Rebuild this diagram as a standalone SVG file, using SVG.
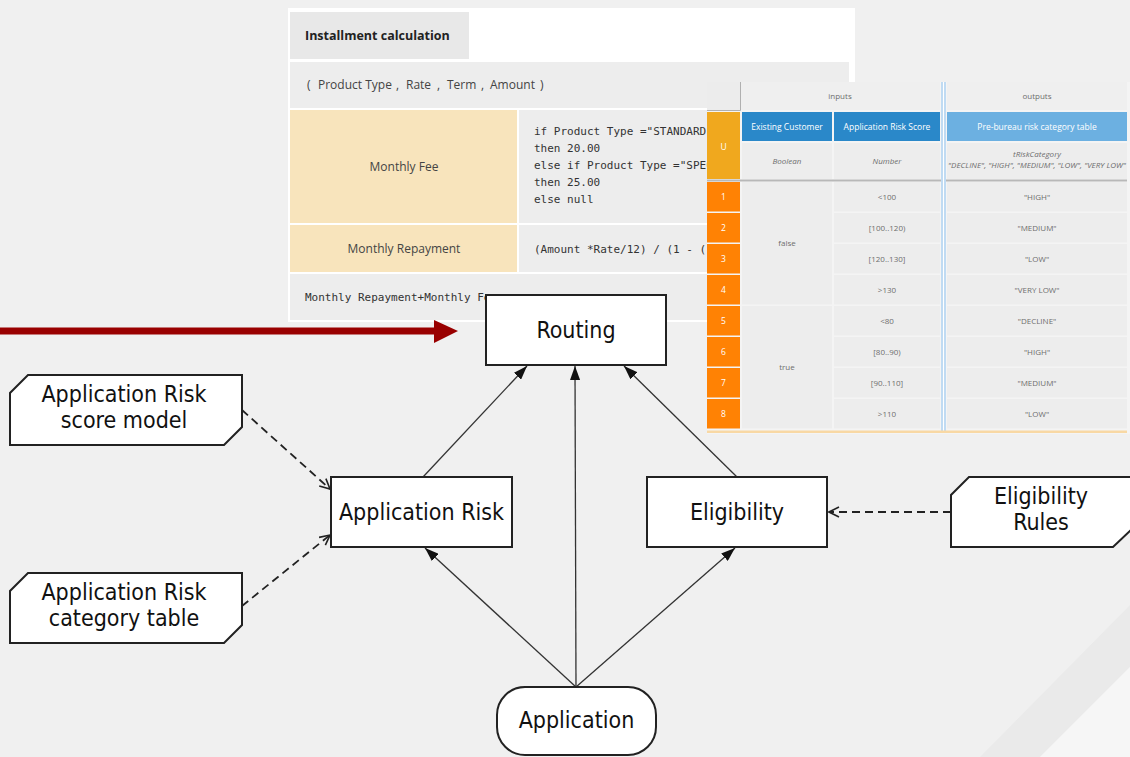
<svg xmlns="http://www.w3.org/2000/svg" width="1130" height="757" viewBox="0 0 1130 757">
  <style>
    .node { fill: #ffffff; stroke: #222222; stroke-width: 2; }
    .lbl { font-family: "DejaVu Sans Condensed", "DejaVu Sans", sans-serif; font-stretch: condensed; font-size: 23px; fill: #111111; text-anchor: middle; }
    .edge { fill: none; stroke: #333333; stroke-width: 1.3; }
    .dash { fill: none; stroke: #222222; stroke-width: 1.8; stroke-dasharray: 8 5; }
    .ui { font-family: "Open Sans", "Liberation Sans", sans-serif; }
    .code { font-family: "DejaVu Sans Mono", "Liberation Mono", monospace; font-size: 11px; fill: #333333; }
    .dt { font-family: "Open Sans", "Liberation Sans", sans-serif; font-size: 8px; fill: #6e6e6e; text-anchor: middle; }
    .dtw { font-family: "Open Sans", "Liberation Sans", sans-serif; font-size: 8.5px; fill: #ffffff; text-anchor: middle; }
    .cell { fill: #ededed; }
    .beige { fill: #f8e4bc; }
    .num { fill: #ff8204; }
  </style>
  <defs>
    <marker id="tri" viewBox="0 0 14 10" refX="14" refY="5" markerWidth="14" markerHeight="10" markerUnits="userSpaceOnUse" orient="auto">
      <path d="M0,0 L14,5 L0,10 z" fill="#111111"/>
    </marker>
    <marker id="open" viewBox="0 0 12 12" refX="11" refY="6" markerWidth="12" markerHeight="12" markerUnits="userSpaceOnUse" orient="auto">
      <path d="M1,1 L11,6 L1,11" fill="none" stroke="#222222" stroke-width="1.6"/>
    </marker>
  </defs>

  <!-- backdrop with diagonal bands -->
  <rect x="0" y="0" width="1130" height="757" fill="#f0f0f0"/>
  <polygon points="1130,605 980,757 1040,757 1130,667" fill="#eaeaea"/>
  <polygon points="1130,667 1040,757 1130,757" fill="#f6f6f6"/>

  <!-- boxed expression: Installment calculation -->
  <g id="installment-table">
    <rect x="288" y="8" width="567" height="314" fill="#ffffff"/>
    <rect x="290" y="12" width="179" height="47" fill="#e8e8e8"/>
    <text class="ui" x="305" y="40" font-size="12.5" font-weight="bold" fill="#222222">Installment calculation</text>
    <rect x="290" y="62" width="559" height="46" class="cell"/>
    <text class="ui" y="89" font-size="12" fill="#444444"><tspan x="307">(</tspan><tspan x="318">Product Type</tspan><tspan x="396">,</tspan><tspan x="406">Rate</tspan><tspan x="437">,</tspan><tspan x="447">Term</tspan><tspan x="481">,</tspan><tspan x="490">Amount</tspan><tspan x="540">)</tspan></text>
    <rect x="290" y="110" width="227" height="113" class="beige"/>
    <rect x="519" y="110" width="330" height="113" class="cell"/>
    <text class="ui" x="404" y="171" font-size="12" fill="#444444" text-anchor="middle">Monthly Fee</text>
    <text class="code" x="534" y="135">if Product Type ="STANDARD</text>
    <text class="code" x="534" y="152">then 20.00</text>
    <text class="code" x="534" y="169">else if Product Type ="SPEC</text>
    <text class="code" x="534" y="186">then 25.00</text>
    <text class="code" x="534" y="203">else null</text>
    <rect x="290" y="225" width="227" height="47" class="beige"/>
    <rect x="519" y="225" width="330" height="47" class="cell"/>
    <text class="ui" x="404" y="253" font-size="12" fill="#444444" text-anchor="middle">Monthly Repayment</text>
    <text class="code" x="534" y="253">(Amount *Rate/12) / (1 - (1</text>
    <rect x="290" y="274" width="559" height="46" class="cell"/>
    <text class="code" x="305" y="301">Monthly Repayment+Monthly Fe</text>
  </g>

  <!-- decision table: Pre-bureau risk category table -->
  <g id="decision-table">
    <rect x="707" y="82" width="423" height="352" fill="#f4f4f4"/>
    <!-- corner cell -->
    <rect x="707" y="82" width="33" height="28" fill="#ececec"/>
    <path d="M740.5,82 V110.5 H707" fill="none" stroke="#b0b0b0" stroke-width="1"/>
    <!-- group headers -->
    <rect x="741" y="82" width="199" height="28" fill="#efefef"/>
    <rect x="947" y="82" width="180" height="28" fill="#efefef"/>
    <text class="dt" x="840" y="99">inputs</text>
    <text class="dt" x="1037" y="99">outputs</text>
    <!-- hit policy -->
    <rect x="707" y="112" width="33" height="67" fill="#f0a81e"/>
    <text class="dtw" x="723.5" y="150" font-size="12">U</text>
    <!-- column names -->
    <rect x="742" y="112" width="90" height="29" fill="#2a88c9"/>
    <rect x="834" y="112" width="106" height="29" fill="#2a88c9"/>
    <rect x="947" y="112" width="180" height="29" fill="#6cb0e1"/>
    <text class="dtw" x="787" y="129.5">Existing Customer</text>
    <text class="dtw" x="887" y="129.5">Application Risk Score</text>
    <text class="dtw" x="1037" y="129.5">Pre-bureau risk category table</text>
    <!-- type row -->
    <rect x="742" y="143" width="90" height="36" class="cell"/>
    <rect x="834" y="143" width="106" height="36" class="cell"/>
    <rect x="947" y="143" width="180" height="36" class="cell"/>
    <text class="dt" x="787" y="164" font-style="italic" font-size="7.5">Boolean</text>
    <text class="dt" x="887" y="164" font-style="italic" font-size="7.5">Number</text>
    <text class="dt" x="1037" y="157" font-style="italic" font-size="7.5">tRiskCategory</text>
    <text class="dt" x="1037" y="168" font-style="italic" font-size="6.3">"DECLINE", "HIGH", "MEDIUM", "LOW", "VERY LOW"</text>
    <rect x="707" y="179.5" width="420" height="2" fill="#b8b8b8"/>
    <!-- rule rows -->
    <g>
      <rect x="707" y="182" width="33" height="29.5" class="num"/>
      <rect x="707" y="213" width="33" height="29.5" class="num"/>
      <rect x="707" y="244" width="33" height="29.5" class="num"/>
      <rect x="707" y="275" width="33" height="29.5" class="num"/>
      <rect x="707" y="306" width="33" height="29.5" class="num"/>
      <rect x="707" y="337" width="33" height="29.5" class="num"/>
      <rect x="707" y="368" width="33" height="29.5" class="num"/>
      <rect x="707" y="399" width="33" height="29.5" class="num"/>
      <text class="dtw" x="723.5" y="199.5" font-size="7">1</text>
      <text class="dtw" x="723.5" y="230.5" font-size="7">2</text>
      <text class="dtw" x="723.5" y="261.5" font-size="7">3</text>
      <text class="dtw" x="723.5" y="292.5" font-size="7">4</text>
      <text class="dtw" x="723.5" y="323.5" font-size="7">5</text>
      <text class="dtw" x="723.5" y="354.5" font-size="7">6</text>
      <text class="dtw" x="723.5" y="385.5" font-size="7">7</text>
      <text class="dtw" x="723.5" y="416.5" font-size="7">8</text>
    </g>
    <rect x="742" y="182" width="90" height="122.5" class="cell"/>
    <rect x="742" y="306" width="90" height="122.5" class="cell"/>
    <text class="dt" x="787" y="246">false</text>
    <text class="dt" x="787" y="370">true</text>
    <g>
      <rect x="834" y="182" width="106" height="29.5" class="cell"/>
      <rect x="834" y="213" width="106" height="29.5" class="cell"/>
      <rect x="834" y="244" width="106" height="29.5" class="cell"/>
      <rect x="834" y="275" width="106" height="29.5" class="cell"/>
      <rect x="834" y="306" width="106" height="29.5" class="cell"/>
      <rect x="834" y="337" width="106" height="29.5" class="cell"/>
      <rect x="834" y="368" width="106" height="29.5" class="cell"/>
      <rect x="834" y="399" width="106" height="29.5" class="cell"/>
      <text class="dt" x="887" y="199.5">&lt;100</text>
      <text class="dt" x="887" y="230.5">[100..120)</text>
      <text class="dt" x="887" y="261.5">[120..130]</text>
      <text class="dt" x="887" y="292.5">&gt;130</text>
      <text class="dt" x="887" y="323.5">&lt;80</text>
      <text class="dt" x="887" y="354.5">[80..90)</text>
      <text class="dt" x="887" y="385.5">[90..110]</text>
      <text class="dt" x="887" y="416.5">&gt;110</text>
    </g>
    <g>
      <rect x="947" y="182" width="180" height="29.5" class="cell"/>
      <rect x="947" y="213" width="180" height="29.5" class="cell"/>
      <rect x="947" y="244" width="180" height="29.5" class="cell"/>
      <rect x="947" y="275" width="180" height="29.5" class="cell"/>
      <rect x="947" y="306" width="180" height="29.5" class="cell"/>
      <rect x="947" y="337" width="180" height="29.5" class="cell"/>
      <rect x="947" y="368" width="180" height="29.5" class="cell"/>
      <rect x="947" y="399" width="180" height="29.5" class="cell"/>
      <text class="dt" x="1037" y="199.5">"HIGH"</text>
      <text class="dt" x="1037" y="230.5">"MEDIUM"</text>
      <text class="dt" x="1037" y="261.5">"LOW"</text>
      <text class="dt" x="1037" y="292.5">"VERY LOW"</text>
      <text class="dt" x="1037" y="323.5">"DECLINE"</text>
      <text class="dt" x="1037" y="354.5">"HIGH"</text>
      <text class="dt" x="1037" y="385.5">"MEDIUM"</text>
      <text class="dt" x="1037" y="416.5">"LOW"</text>
    </g>
    <!-- input/output separator -->
    <rect x="941" y="82" width="5" height="350" fill="#ffffff"/>
    <line x1="942" y1="82" x2="942" y2="432" stroke="#9ec8ec" stroke-width="1.3"/>
    <line x1="945" y1="82" x2="945" y2="432" stroke="#9ec8ec" stroke-width="1.3"/>
    <rect x="707" y="430.5" width="420" height="2.5" fill="#f8d8a4"/>
  </g>

  <!-- incoming red arrow -->
  <g id="red-arrow">
    <line x1="0" y1="331" x2="436" y2="331" stroke="#990000" stroke-width="7"/>
    <polygon points="434,320 458,331 434,343" fill="#990000"/>
  </g>

  <!-- connectors -->
  <g id="connectors">
    <path class="edge" d="M423,477 L527,366" marker-end="url(#tri)"/>
    <path class="edge" d="M576,687 L575,366" marker-end="url(#tri)"/>
    <path class="edge" d="M737,477 L624,366" marker-end="url(#tri)"/>
    <path class="edge" d="M576,687 L425,548" marker-end="url(#tri)"/>
    <path class="edge" d="M576,687 L735,548" marker-end="url(#tri)"/>
    <path class="dash" d="M242,410 L330,489" marker-end="url(#open)"/>
    <path class="dash" d="M242,606 L330,535" marker-end="url(#open)"/>
    <path class="dash" d="M951,512 L829,512" marker-end="url(#open)"/>
  </g>

  <!-- decisions -->
  <g id="routing">
    <rect class="node" x="486" y="295" width="180" height="70"/>
    <text class="lbl" x="576" y="338">Routing</text>
  </g>
  <g id="application-risk">
    <rect class="node" x="331" y="477" width="181" height="70"/>
    <text class="lbl" x="421.5" y="520">Application Risk</text>
  </g>
  <g id="eligibility">
    <rect class="node" x="647" y="477" width="180" height="70"/>
    <text class="lbl" x="737" y="520">Eligibility</text>
  </g>

  <!-- input data -->
  <g id="application">
    <rect class="node" x="497" y="687" width="159" height="68" rx="28" ry="28"/>
    <text class="lbl" x="576.5" y="728">Application</text>
  </g>

  <!-- knowledge models -->
  <g id="risk-score-model">
    <polygon class="node" points="28,375 242,375 242,427 224,445 10,445 10,393"/>
    <text class="lbl" x="124" y="402">Application Risk</text>
    <text class="lbl" x="124" y="428">score model</text>
  </g>
  <g id="risk-category-table">
    <polygon class="node" points="28,573 242,573 242,625 224,643 10,643 10,591"/>
    <text class="lbl" x="124" y="600">Application Risk</text>
    <text class="lbl" x="124" y="626">category table</text>
  </g>
  <g id="eligibility-rules">
    <polygon class="node" points="969,477 1132,477 1132,529 1113,547 951,547 951,495"/>
    <text class="lbl" x="1041" y="504">Eligibility</text>
    <text class="lbl" x="1041" y="530">Rules</text>
  </g>
</svg>
